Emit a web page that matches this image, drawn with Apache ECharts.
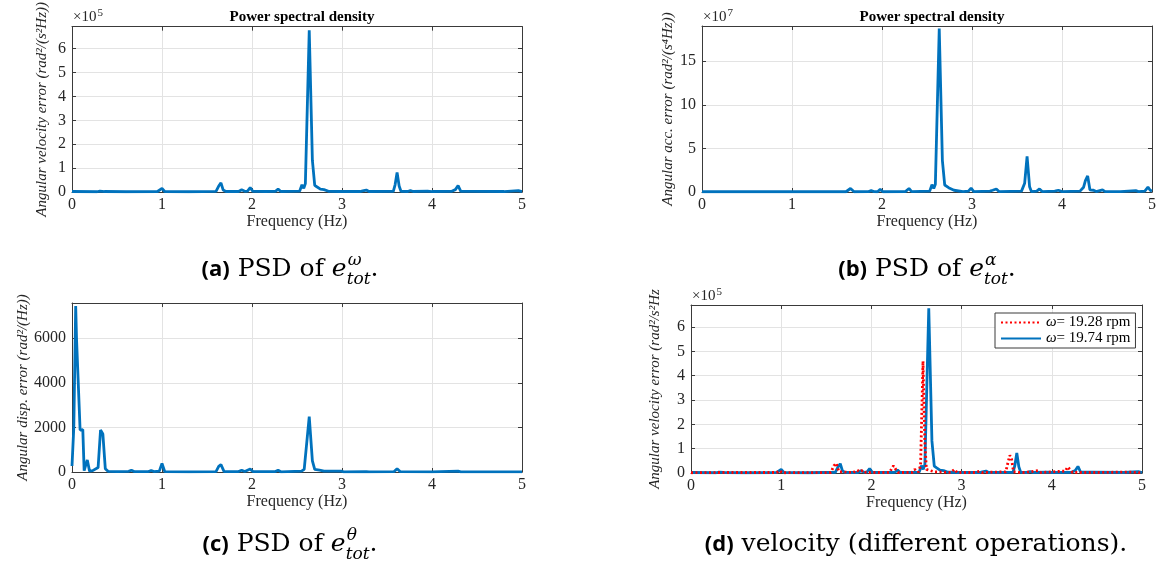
<!DOCTYPE html>
<html><head><meta charset="utf-8">
<script src="https://cdn.jsdelivr.net/npm/echarts@6/dist/echarts.min.js"></script>
<style>html,body{margin:0;padding:0;background:#fff}#c{width:1161px;height:568px}</style>
</head><body><div id="c"></div>
<script>
// ---------- DATA ----------
const xTicks = [0, 1, 2, 3, 4, 5];
// (a) angular velocity error PSD, values in units of 1e5
const aFreq = [0,0.28,0.31,0.33,0.36,0.6,0.95,1.0,1.03,1.3,1.6,1.63,1.655,1.68,1.71,1.85,1.885,1.92,1.95,1.98,2.01,2.15,2.26,2.29,2.32,2.53,2.555,2.575,2.593,2.636,2.671,2.697,2.72,2.76,2.8,2.85,2.97,2.99,3.02,3.2,3.23,3.25,3.27,3.3,3.57,3.59,3.612,3.635,3.655,3.73,3.76,3.79,3.95,4.0,4.22,4.26,4.29,4.32,4.45,4.8,4.96,4.98,5.0];
const aVal  = [0.02,0.01,0.04,0.08,0.02,0.01,0.02,0.15,0.02,0.01,0.03,0.25,0.38,0.08,0.02,0.02,0.09,0.03,0.04,0.18,0.03,0.02,0.03,0.12,0.02,0.04,0.3,0.15,0.35,6.77,1.32,0.28,0.22,0.12,0.1,0.03,0.02,0.1,0.02,0.02,0.05,0.03,0.08,0.02,0.03,0.3,0.82,0.25,0.03,0.02,0.06,0.02,0.04,0.02,0.03,0.1,0.27,0.03,0.03,0.02,0.06,0.04,0.02];
// (b) angular acceleration error PSD, units of 1e7
const bFreq = [0,1.0,1.6,1.65,1.69,1.85,1.88,1.91,1.95,1.98,2.01,2.26,2.3,2.33,2.53,2.555,2.575,2.593,2.636,2.671,2.697,2.74,2.8,2.9,2.96,2.99,3.02,3.2,3.23,3.25,3.27,3.3,3.55,3.585,3.612,3.64,3.66,3.72,3.75,3.78,3.92,3.96,4.0,4.2,4.24,4.26,4.285,4.31,4.35,4.38,4.45,4.48,4.65,4.82,4.85,4.92,4.955,4.98,5.0];
const bVal  = [0.03,0.03,0.03,0.4,0.03,0.05,0.15,0.05,0.03,0.3,0.03,0.05,0.4,0.05,0.1,0.85,0.4,0.9,18.74,3.6,0.8,0.5,0.2,0.05,0.1,0.45,0.05,0.1,0.2,0.1,0.35,0.05,0.1,1.0,4.1,0.6,0.05,0.1,0.35,0.05,0.1,0.2,0.05,0.1,0.55,1.3,1.85,0.25,0.2,0.05,0.25,0.05,0.05,0.15,0.05,0.1,0.55,0.2,0.1];
// (c) angular displacement error PSD
const cFreq = [0,0.02,0.041,0.05,0.09,0.12,0.135,0.15,0.17,0.195,0.23,0.29,0.317,0.343,0.37,0.4,0.5,0.63,0.66,0.69,0.85,0.88,0.91,0.97,1.0,1.03,1.3,1.6,1.63,1.655,1.69,1.85,1.885,1.92,1.98,2.01,2.26,2.29,2.32,2.55,2.58,2.6,2.636,2.671,2.697,2.75,2.8,2.99,3.02,3.27,3.3,3.58,3.612,3.645,4.0,4.29,4.32,5.0];
const cVal  = [270,2000,7440,6000,1880,1900,60,80,540,40,60,200,1880,1700,150,30,20,30,80,20,20,70,20,40,380,20,10,20,250,330,20,20,80,20,130,20,20,80,10,40,120,150,2480,500,120,80,40,40,10,20,10,20,150,20,10,40,10,10];
// (d) two operating speeds, units of 1e5 (19.74 rpm = same as panel a)
const dRedFreq = [0,0.3,0.95,0.98,1.01,1.55,1.585,1.61,1.64,1.8,1.84,1.87,1.91,1.94,2.2,2.245,2.27,2.3,2.45,2.48,2.52,2.545,2.572,2.592,2.61,2.65,2.7,2.88,2.92,2.95,3.15,3.2,3.23,3.49,3.515,3.535,3.555,3.575,3.65,3.67,3.7,3.85,3.88,4.15,4.175,4.2,4.23,4.5,4.85,5.0];
const dRedVal  = [0.01,0.02,0.02,0.1,0.01,0.02,0.3,0.4,0.05,0.02,0.12,0.05,0.12,0.02,0.02,0.3,0.15,0.02,0.02,0.15,0.03,0.3,4.6,1.3,0.15,0.1,0.05,0.02,0.15,0.02,0.02,0.07,0.02,0.05,0.45,0.73,0.55,0.05,0.02,0.06,0.02,0.1,0.02,0.08,0.25,0.15,0.02,0.02,0.04,0.01];
const dBlueFreq = aFreq, dBlueVal = aVal;
const seriesNames = ['ω= 19.28 rpm', 'ω= 19.74 rpm'];
const yNames = [
  'Angular velocity error (rad²/(s²Hz))',
  'Angular acc. error (rad²/(s⁴Hz))',
  'Angular disp. error (rad²/(Hz))',
  'Angular velocity error (rad²/s²Hz'
];
const xName = 'Frequency (Hz)';
const titleText = 'Power spectral density';

// ---------- LAYOUT ----------
const SERIF = 'Liberation Serif';
const BLUE = '#0072BD';
const AX = '#3a3a3a';
const TXT = '#262626';
const grids = [
  {left: 72,  top: 26,  width: 450, height: 166},
  {left: 702, top: 26,  width: 450, height: 166},
  {left: 72,  top: 303, width: 450, height: 169},
  {left: 691, top: 305, width: 451, height: 168}
];
const yCfg = [
  {max: 6.92, interval: 1, gap: 22},
  {max: 19.04, interval: 5, gap: 26},
  {max: 7575, interval: 2000, gap: 40},
  {max: 6.91, interval: 1, gap: 28}
];
const zip = (f, v) => f.map((x, i) => [x, v[i]]);

const xAxis = [], yAxis = [];
grids.forEach((g, i) => {
  xAxis.push({
    type: 'value', gridIndex: i, min: 0, max: 5, interval: 1, position: 'bottom',
    axisLine: {show: true, onZero: false, lineStyle: {color: AX, width: 1}},
    axisTick: {show: true, inside: true, length: 4, lineStyle: {color: AX}},
    axisLabel: {color: TXT, fontFamily: SERIF, fontSize: 16, margin: 5},
    splitLine: {show: true, lineStyle: {color: '#e3e3e3', width: 1}},
    name: xName, nameLocation: 'middle', nameGap: 21,
    nameTextStyle: {color: TXT, fontFamily: SERIF, fontSize: 16}
  });
  xAxis.push({
    type: 'value', gridIndex: i, min: 0, max: 5, interval: 1, position: 'top',
    axisLine: {show: true, onZero: false, lineStyle: {color: AX, width: 1}},
    axisTick: {show: true, inside: true, length: 4, lineStyle: {color: AX}},
    axisLabel: {show: false}, splitLine: {show: false}
  });
  yAxis.push({
    type: 'value', gridIndex: i, min: 0, max: yCfg[i].max, interval: yCfg[i].interval, position: 'left',
    axisLine: {show: true, onZero: false, lineStyle: {color: AX, width: 1}},
    axisTick: {show: true, inside: true, length: 4, lineStyle: {color: AX}},
    axisLabel: {color: TXT, fontFamily: SERIF, fontSize: 16, margin: 6, showMaxLabel: false,
                formatter: v => String(v)},
    splitLine: {show: true, lineStyle: {color: '#e3e3e3', width: 1}},
    name: yNames[i], nameLocation: 'middle', nameRotate: 90, nameGap: yCfg[i].gap,
    nameTextStyle: {color: TXT, fontFamily: SERIF, fontSize: 15, fontStyle: 'italic'}
  });
  yAxis.push({
    type: 'value', gridIndex: i, min: 0, max: yCfg[i].max, interval: yCfg[i].interval, position: 'right',
    axisLine: {show: true, onZero: false, lineStyle: {color: AX, width: 1}},
    axisTick: {show: true, inside: true, length: 4, lineStyle: {color: AX}},
    axisLabel: {show: false}, splitLine: {show: false}
  });
});

const lineSeries = (gi, data, color, type, name, z) => ({
  type: 'line', name: name, xAxisIndex: gi * 2, yAxisIndex: gi * 2, data: data,
  symbol: 'none', showSymbol: false, animation: false, z: z || 2,
  lineStyle: {color: color, width: 2.8, type: type || 'solid'}, itemStyle: {color: color}
});

const series = [
  lineSeries(0, zip(aFreq, aVal), BLUE),
  lineSeries(1, zip(bFreq, bVal), BLUE),
  lineSeries(2, zip(cFreq, cVal), BLUE),
  lineSeries(3, zip(dRedFreq, dRedVal), '#ff0000', [2, 2.5], seriesNames[0], 3),
  lineSeries(3, zip(dBlueFreq, dBlueVal), BLUE, 'solid', seriesNames[1], 2)
];

// text measuring for captions
const mctx = document.createElement('canvas').getContext('2d');
function tw(t, font) { mctx.font = font; return mctx.measureText(t).width; }

const CAPF = 'DejaVu Serif';
const CAPS = 25;
function txt(x, y, text, font) {
  return {type: 'text', x: x, y: y, style: {text: text, font: font, fill: '#000',
          textVerticalAlign: 'bottom', verticalAlign: 'bottom'}};
}
function caption(cx, baseY, tag, body, sup, sub) {
  const fTag = 'bold 22px "Open Sans"';
  const fBody = CAPS + 'px "' + CAPF + '"';
  const fE = 'italic ' + CAPS + 'px "' + CAPF + '"';
  const fS = 'italic 17px "' + CAPF + '"';
  const els = [];
  const wTag = tw(tag, fTag), wBody = tw(body, fBody);
  let total = wTag + wBody;
  let wE = 0, wS = 0, wDot = 0;
  if (sup) {
    wE = tw('e', fE); wS = Math.max(tw(sup, fS), tw(sub, fS)); wDot = tw('.', fBody);
    total += wE + wS + wDot;
  }
  let x = cx - total / 2;
  els.push(txt(x, baseY - 1, tag, fTag));
  x += wTag;
  els.push(txt(x, baseY, body, fBody));
  x += wBody;
  if (sup) {
    els.push(txt(x, baseY, 'e', fE));
    x += wE;
    els.push(txt(x + 1, baseY - 13, sup, fS));
    els.push(txt(x, baseY + 6, sub, fS));
    x += wS;
    els.push(txt(x, baseY, '.', fBody));
  }
  return els;
}

function expLabel(x, y, p) {
  const f1 = '15px "' + SERIF + '"';
  return [
    {type: 'text', x: x, y: y, style: {text: '×10', font: f1, fill: TXT, textVerticalAlign: 'bottom', verticalAlign: 'bottom'}},
    {type: 'text', x: x + tw('×10', f1) + 1, y: y - 6, style: {text: p, font: '11px "' + SERIF + '"', fill: TXT, textVerticalAlign: 'bottom', verticalAlign: 'bottom'}}
  ];
}

const graphic = [].concat(
  expLabel(73, 25, '5'),
  expLabel(703, 25, '7'),
  expLabel(692, 304, '5'),
  caption(290, 282, '(a)', ' PSD of ', 'ω', 'tot'),
  caption(927, 282, '(b)', ' PSD of ', 'α', 'tot'),
  caption(290, 557, '(c)', ' PSD of ', 'θ', 'tot'),
  caption(916, 557, '(d)', ' velocity (different operations).')
);

const option = {
  animation: false,
  backgroundColor: '#fff',
  title: [
    {text: titleText, left: 297, top: 5, textAlign: 'center',
     textStyle: {fontFamily: SERIF, fontWeight: 'bold', fontSize: 15, color: '#000'}},
    {text: titleText, left: 927, top: 5, textAlign: 'center',
     textStyle: {fontFamily: SERIF, fontWeight: 'bold', fontSize: 15, color: '#000'}}
  ],
  grid: grids.map(g => Object.assign({containLabel: false}, g)),
  xAxis: xAxis, yAxis: yAxis,
  legend: {
    data: seriesNames.map(n => ({name: n, itemStyle: {opacity: 0}})),
    orient: 'vertical', left: 995, top: 313,
    backgroundColor: '#fff', borderColor: AX, borderWidth: 1, padding: [2, 5, 2, 5],
    itemGap: 1, itemWidth: 40, itemHeight: 12,
    formatter: n => '{i|ω}' + n.slice(1),
    textStyle: {fontFamily: SERIF, fontSize: 15, color: '#000', rich: {i: {fontFamily: SERIF, fontSize: 15, fontStyle: 'italic'}}}
  },
  series: series,
  graphic: graphic
};
const chart = echarts.init(document.getElementById('c'));
chart.setOption(option);
</script></body></html>
